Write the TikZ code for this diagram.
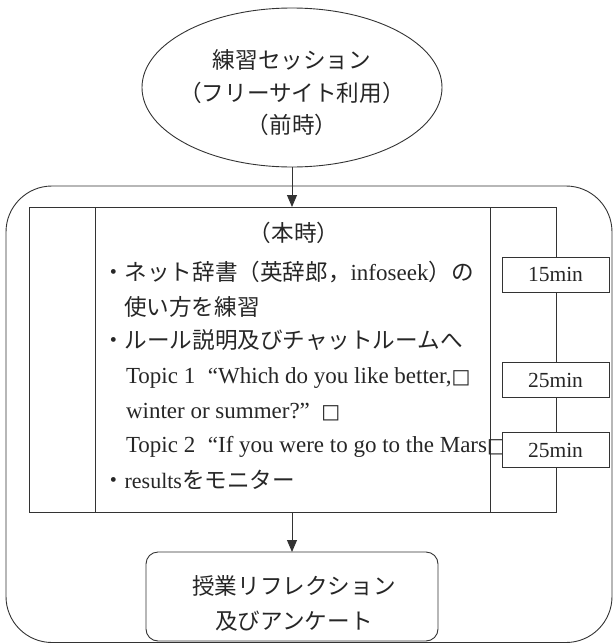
\documentclass[tikz,border=0pt]{standalone}
\usepackage{fontspec}
\setmainfont{Liberation Serif}
\newfontfamily\jp{Noto Sans CJK JP}
\newfontfamily\dvs{DejaVu Sans}
\usetikzlibrary{shapes.geometric,arrows.meta}
\newcommand\mysq{{\dvs\bfseries\fontsize{20}{20}\selectfont □}}
\newcommand\jpf{\jp\fontsize{22.6}{26}\selectfont}
\newcommand\lat{\fontsize{23}{26}\selectfont}
\begin{document}
\begin{tikzpicture}[x=1pt,y=-1pt,
  every node/.style={inner sep=0pt, outer sep=0pt, font=\fontsize{22}{26}\selectfont, text=black!85},
  line/.style={draw=black!80, line width=0.9pt},
  arr/.style={line, -{Triangle[length=12pt,width=10pt]}},
  txt/.style={anchor=base west},
  ctxt/.style={anchor=base},
  timebox/.style={line, fill=white, minimum width=107pt, minimum height=35pt, font=\fontsize{21.5}{24}\selectfont}]
\useasboundingbox (0,0) rectangle (614,643);

% previous session ellipse
\node[line, ellipse, minimum width=300pt, minimum height=159pt] (prev) at (292,87.5) {};
\node[ctxt] (p1) at (292,68) {\jpf 練習セッション};
\node[ctxt] (p2) at (292,101) {\jpf （フリーサイト利用）};
\node[ctxt] (p3) at (292,133) {\jpf （前時）};

% outer rounded frame
\node[line, rounded corners=46pt, minimum width=606pt, minimum height=456.5pt] (outer) at (309,414.25) {};

% table
\node[line, minimum width=527pt, minimum height=305pt] (table) at (292.5,359.5) {};
\coordinate (c1) at (95,0);
\coordinate (c2) at (490,0);
\draw[line] (table.north -| c1) -- (table.south -| c1);
\draw[line] (table.north -| c2) -- (table.south -| c2);

% reflection box
\node[line, rounded corners=12pt, minimum width=292pt, minimum height=89pt] (refl) at (292,596.5) {};
\node[ctxt] (r1) at (294,594) {\jpf 授業リフレクション};
\node[ctxt] (r2) at (294,629) {\jpf 及びアンケート};

% arrows
\draw[arr] (prev.south) -- (table.north -| prev.south);
\draw[arr] (table.south -| refl.north) -- (refl.north);

% table text
\node[ctxt] (t0) at (294,241) {\jpf （本時）};
\node[txt] (t1) at (102,280) {{\jpf ・ネット辞書（英辞郎，}{\lat infoseek}{\jpf ）の}};
\node[txt] (t2) at (124,315) {\jpf 使い方を練習};
\node[txt] (t3) at (102,348) {\jpf ・ルール説明及びチャットルームへ};
\node[txt, font=\lat] (t4) at (126,383) {Topic 1\hspace{0.55em}“Which do you like better,\mysq};
\node[txt, font=\lat] (t5) at (126,418) {winter or summer?”\hspace{0.5em}\mysq};
\node[txt, font=\lat] (t6) at (126,452) {Topic 2\hspace{0.55em}“If you were to go to the Mars\mysq};
\node[txt] (t7) at (102,488) {{\jpf ・}results{\jpf をモニター}};

% time boxes
\node[timebox] (m1) at (555.5,274.5) {15min};
\node[timebox] (m2) at (555.5,380) {25min};
\node[timebox] (m3) at (555.5,450) {25min};
\end{tikzpicture}
\end{document}
